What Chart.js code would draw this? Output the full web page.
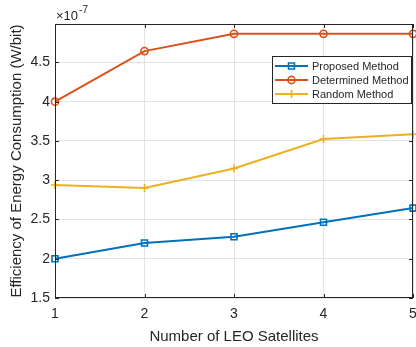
<!DOCTYPE html>
<html>
<head>
<meta charset="utf-8">
<script src="https://cdn.jsdelivr.net/npm/chart.js@4"></script>
<style>
  html, body { margin: 0; padding: 0; background: #fff; }
  #wrap { width: 416px; height: 347px; }
</style>
</head>
<body>
<div id="wrap"><canvas id="c" width="416" height="347"></canvas></div>
<script>
// Number of LEO satellites
const satellites = [1, 2, 3, 4, 5];
// Energy-consumption efficiency, in units of 1e-7 W/bit
const proposed   = [2.00, 2.20, 2.28, 2.465, 2.645];
const determined = [4.00, 4.645, 4.865, 4.865, 4.865];
const random     = [2.94, 2.90, 3.15, 3.525, 3.585];
const yTicks = [1.5, 2, 2.5, 3, 3.5, 4, 4.5];
const exponentLabel = ['\u00d710', '-7'];

const seriesNames = ['Proposed Method', 'Determined Method', 'Random Method'];
const seriesColors = ['#0072BD', '#D95319', '#EDB120'];
const seriesMarkers = ['rect', 'circle', 'cross'];
const markerRadius = [4.2, 3.6, 4];

const FONT = '"Liberation Sans", Arial, Helvetica, sans-serif';
const INK = '#262626';

function toPoints(vals) {
  return vals.map((v, i) => ({ x: satellites[i], y: v }));
}

const datasets = [proposed, determined, random].map((vals, i) => ({
  label: seriesNames[i],
  data: toPoints(vals),
  borderColor: seriesColors[i],
  backgroundColor: seriesColors[i],
  borderWidth: 2,
  pointStyle: seriesMarkers[i],
  pointRadius: markerRadius[i],
  pointBorderWidth: 1.6,
  pointBackgroundColor: 'rgba(0,0,0,0)',
  pointBorderColor: seriesColors[i],
  tension: 0,
  clip: 8
}));

// Box, inward ticks, exponent and in-axes legend
const decorations = {
  id: 'decorations',
  afterDraw(chart) {
    const ctx = chart.ctx;
    const { left, right, top, bottom } = chart.chartArea;
    const xs = chart.scales.x, ys = chart.scales.y;
    ctx.save();
    ctx.strokeStyle = INK;
    ctx.lineWidth = 1;
    ctx.beginPath();
    xs.ticks.forEach(t => {
      const px = Math.round(xs.getPixelForValue(t.value)) + 0.5;
      ctx.moveTo(px, bottom); ctx.lineTo(px, bottom - 4);
      ctx.moveTo(px, top); ctx.lineTo(px, top + 4);
    });
    ys.ticks.forEach(t => {
      const py = Math.round(ys.getPixelForValue(t.value)) + 0.5;
      ctx.moveTo(left, py); ctx.lineTo(left + 4, py);
      ctx.moveTo(right, py); ctx.lineTo(right - 4, py);
    });
    ctx.stroke();
    ctx.strokeRect(Math.round(left) + 0.5, Math.round(top) + 0.5,
                   Math.round(right - left) - 1, Math.round(bottom - top) - 1);

    // exponent above the y axis
    ctx.fillStyle = INK;
    ctx.textBaseline = 'alphabetic';
    ctx.textAlign = 'left';
    ctx.font = '13px ' + FONT;
    ctx.fillText(exponentLabel[0], left + 1, top - 4);
    const w = ctx.measureText(exponentLabel[0]).width;
    ctx.font = '10px ' + FONT;
    ctx.fillText(exponentLabel[1], left + 1 + w + 1, top - 11);

    // legend
    const bx = right - 141, by = top + 32, bw = 139, bh = 47;
    ctx.fillStyle = '#fff';
    ctx.fillRect(bx, by, bw, bh);
    ctx.strokeStyle = INK;
    ctx.strokeRect(Math.round(bx) + 0.5, Math.round(by) + 0.5, bw, bh);
    ctx.font = '11px ' + FONT;
    ctx.textBaseline = 'middle';
    chart.data.datasets.forEach((ds, i) => {
      const ry = by + 10 + i * 14;
      ctx.strokeStyle = ds.borderColor;
      ctx.lineWidth = 2;
      ctx.beginPath();
      ctx.moveTo(bx + 3, ry); ctx.lineTo(bx + 36, ry);
      ctx.stroke();
      ctx.lineWidth = 1.6;
      ctx.fillStyle = 'rgba(0,0,0,0)';
      Chart.helpers.drawPoint(ctx, {
        pointStyle: ds.pointStyle, radius: ds.pointRadius, borderWidth: 1.6, rotation: 0
      }, bx + 19.5, ry);
      ctx.fillStyle = INK;
      ctx.fillText(ds.label, bx + 40, ry + 0.5);
    });
    ctx.restore();
  }
};

new Chart(document.getElementById('c'), {
  type: 'line',
  data: { datasets },
  plugins: [decorations],
  options: {
    responsive: false,
    animation: false,
    layout: { autoPadding: false, padding: { top: 24, right: 3, left: 0, bottom: 0 } },
    plugins: { legend: { display: false }, tooltip: { enabled: false } },
    scales: {
      x: {
        type: 'linear',
        min: 1, max: 5,
        ticks: {
          stepSize: 1,
          color: INK,
          font: { family: FONT, size: 14 },
          padding: 8,
          maxRotation: 0
        },
        grid: { color: '#e3e3e3', lineWidth: 1, drawTicks: false },
        border: { display: false },
        title: {
          display: true,
          text: 'Number of LEO Satellites',
          color: INK,
          font: { family: FONT, size: 15 },
          padding: { top: 4, bottom: 1 }
        },
        afterFit(scale) { scale.height = 49; scale.paddingLeft = 0; scale.paddingRight = 0; }
      },
      y: {
        type: 'linear',
        min: 1.5, max: 4.99,
        afterBuildTicks(scale) { scale.ticks = yTicks.map(v => ({ value: v })); },
        ticks: {
          color: INK,
          font: { family: FONT, size: 14 },
          padding: 5,
          callback: v => String(Math.round(v * 10) / 10)
        },
        grid: { color: '#e3e3e3', lineWidth: 1, drawTicks: false },
        border: { display: false },
        title: {
          display: true,
          text: 'Efficiency of Energy Consumption (W/bit)',
          color: INK,
          font: { family: FONT, size: 15 },
          padding: { top: 8, bottom: 0 }
        },
        afterFit(scale) { scale.width = 55; scale.paddingTop = 0; scale.paddingBottom = 0; }
      }
    }
  }
});
</script>
</body>
</html>
